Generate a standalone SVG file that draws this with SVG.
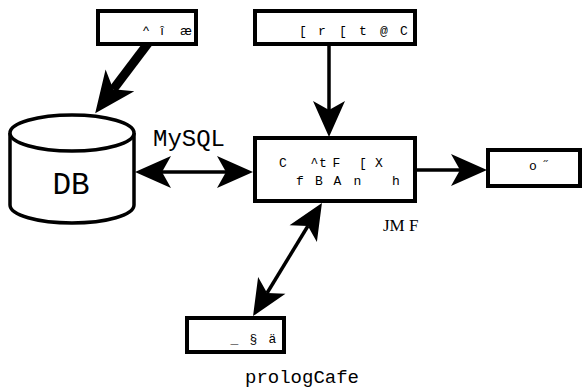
<svg xmlns="http://www.w3.org/2000/svg" width="585" height="390" viewBox="0 0 585 390">
  <style>
    .box { fill: #fff; stroke: #000; stroke-width: 4; }
    .db { fill: #fff; stroke: #000; stroke-width: 3.5; }
    .wire { fill: none; stroke: #000; stroke-width: 3.5; }
    .wire-thick { fill: none; stroke: #000; stroke-width: 9; }
    .mono { font-family: "Liberation Mono", "DejaVu Sans Mono", monospace; fill: #000; }
    .sans { font-family: "Liberation Sans", Arial, sans-serif; fill: #000; }
    .serif { font-family: "Liberation Serif", "Times New Roman", serif; fill: #000; }
    .small { font-size: 13px; }
  </style>
  <defs>
    <!-- dart-shaped head; reference point is the notch, where the line ends -->
    <marker id="head" markerUnits="userSpaceOnUse" viewBox="-10 -17 38 34" refX="0" refY="0" markerWidth="38" markerHeight="34" orient="auto-start-reverse">
      <path d="M27,0 L-9,-16 L0,0 L-9,16 Z" fill="#000"/>
    </marker>
    <marker id="headBig" markerUnits="userSpaceOnUse" viewBox="-12 -19 43 38" refX="0" refY="0" markerWidth="43" markerHeight="38" orient="auto">
      <path d="M30,0 L-11,-18 L0,0 L-11,18 Z" fill="#000"/>
    </marker>
  </defs>

  <g id="connectors">
    <line class="wire-thick" x1="149" y1="42" x2="113.3" y2="89.2" marker-end="url(#headBig)"/>
    <line class="wire" x1="329" y1="44" x2="329" y2="110" marker-end="url(#head)"/>
    <line class="wire" x1="162" y1="172" x2="226" y2="172" marker-start="url(#head)" marker-end="url(#head)"/>
    <line class="wire" x1="415" y1="170" x2="460" y2="170" marker-end="url(#head)"/>
    <line class="wire" x1="307.9" y1="226" x2="267.1" y2="293" marker-start="url(#head)" marker-end="url(#head)"/>
  </g>

  <g id="db">
    <path class="db" d="M10,133 L10,205 A62,18 0 0 0 134,205 L134,133"/>
    <ellipse class="db" cx="72" cy="133" rx="62" ry="18"/>
    <text class="mono" x="71" y="194" font-size="31" text-anchor="middle">DB</text>
  </g>

  <g id="node-top-left">
    <rect class="box" x="98" y="11" width="98" height="33"/>
    <text class="sans small" xml:space="preserve" x="146 154 162 174 186" y="35" text-anchor="middle">^ î æ</text>
  </g>

  <g id="node-top-middle">
    <rect class="box" x="255" y="11" width="160" height="33"/>
    <text class="mono small" xml:space="preserve" x="303 310 322 332 343 353 363 373 384 394 404" y="35" text-anchor="middle">[ r [ t @ C</text>
  </g>

  <g id="node-center">
    <rect class="box" x="255" y="138" width="160" height="63"/>
    <text class="mono small" xml:space="preserve" x="283 298 314.5 323 336.5 363 379" y="167" text-anchor="middle">C ^tF[X</text>
    <text class="mono small" xml:space="preserve" x="300 310 319 328 337.5 347 357.5 376 396" y="185" text-anchor="middle">f B A n h</text>
  </g>

  <g id="node-right">
    <rect class="box" x="488" y="150" width="92" height="36"/>
    <text class="mono small" xml:space="preserve" x="533 540 547" y="170" text-anchor="middle">o ˝</text>
  </g>

  <g id="node-bottom">
    <rect class="box" x="187" y="318" width="97" height="34"/>
    <text class="mono small" xml:space="preserve" x="234.5 244 253.5 263 272.5" y="343" text-anchor="middle">_ § ä</text>
  </g>

  <text class="mono" x="153" y="146" font-size="24">MySQL</text>
  <text class="serif" x="383" y="231" font-size="17">JM F</text>
  <text class="mono" x="245" y="383" font-size="19">prologCafe</text>
</svg>
